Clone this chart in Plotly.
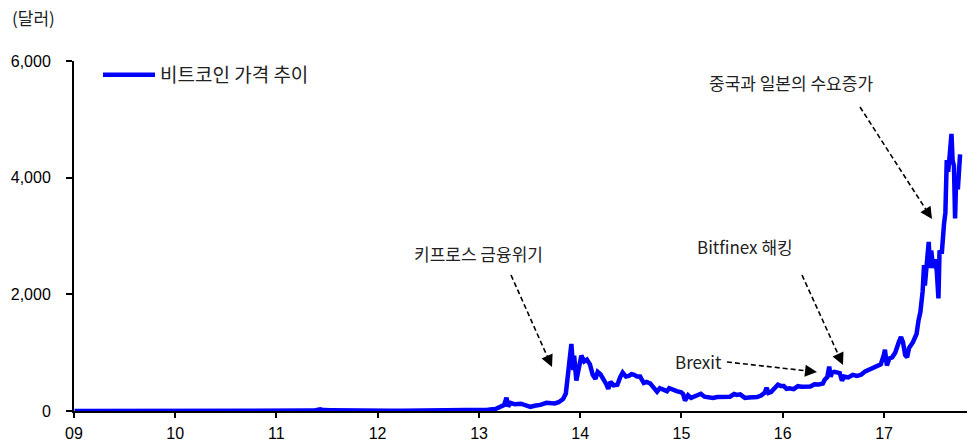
import plotly.graph_objects as go

# Bitcoin price (USD), read at irregular dates
dates = [
    "2009-01-03", "2010-07-17", "2010-11-06", "2011-01-01", "2011-02-10", "2011-04-15",
    "2011-05-15", "2011-06-08", "2011-06-20", "2011-07-15", "2011-08-15", "2011-09-15",
    "2011-10-20", "2011-11-20", "2012-01-05", "2012-02-15", "2012-04-01", "2012-06-01",
    "2012-08-15", "2012-09-01", "2012-11-01", "2013-01-01", "2013-02-01", "2013-03-01",
    "2013-03-20", "2013-04-01", "2013-04-10", "2013-04-16", "2013-04-25", "2013-05-10",
    "2013-06-01", "2013-06-20", "2013-07-05", "2013-07-20", "2013-08-10", "2013-09-01",
    "2013-09-20", "2013-10-01", "2013-10-15", "2013-10-31", "2013-11-10", "2013-11-18",
    "2013-11-24", "2013-11-30", "2013-12-07", "2013-12-10", "2013-12-18", "2013-12-25",
    "2014-01-05", "2014-01-15", "2014-01-25", "2014-02-05", "2014-02-15", "2014-02-25",
    "2014-03-05", "2014-03-15", "2014-03-25", "2014-04-05", "2014-04-12", "2014-04-20",
    "2014-05-01", "2014-05-15", "2014-05-25", "2014-06-03", "2014-06-15", "2014-06-25",
    "2014-07-05", "2014-07-15", "2014-07-25", "2014-08-05", "2014-08-18", "2014-08-28",
    "2014-09-10", "2014-09-22", "2014-10-05", "2014-10-15", "2014-10-28", "2014-11-10",
    "2014-11-18", "2014-12-01", "2014-12-15", "2014-12-31", "2015-01-07", "2015-01-14",
    "2015-01-25", "2015-02-05", "2015-02-15", "2015-03-01", "2015-03-12", "2015-03-25",
    "2015-04-10", "2015-04-25", "2015-05-10", "2015-05-25", "2015-06-10", "2015-06-25",
    "2015-07-10", "2015-07-20", "2015-08-01", "2015-08-18", "2015-09-01", "2015-09-15",
    "2015-10-01", "2015-10-15", "2015-10-28", "2015-11-04", "2015-11-11", "2015-11-20",
    "2015-12-01", "2015-12-15", "2015-12-25", "2016-01-05", "2016-01-15", "2016-01-25",
    "2016-02-10", "2016-02-25", "2016-03-10", "2016-03-25", "2016-04-10", "2016-04-25",
    "2016-05-10", "2016-05-25", "2016-06-01", "2016-06-10", "2016-06-17", "2016-06-22",
    "2016-06-28", "2016-07-05", "2016-07-15", "2016-07-25", "2016-08-02", "2016-08-10",
    "2016-08-25", "2016-09-10", "2016-09-25", "2016-10-10", "2016-10-25", "2016-11-05",
    "2016-11-20", "2016-12-05", "2016-12-20", "2016-12-31", "2017-01-04", "2017-01-11",
    "2017-01-20", "2017-01-30", "2017-02-10", "2017-02-23", "2017-03-03", "2017-03-10",
    "2017-03-18", "2017-03-25", "2017-04-01", "2017-04-15", "2017-04-28", "2017-05-05",
    "2017-05-12", "2017-05-20", "2017-05-25", "2017-05-28", "2017-06-05", "2017-06-11",
    "2017-06-15", "2017-06-20", "2017-06-27", "2017-07-03", "2017-07-10", "2017-07-16",
    "2017-07-20", "2017-07-28", "2017-08-05", "2017-08-10", "2017-08-15", "2017-08-20",
    "2017-08-25", "2017-09-01", "2017-09-05", "2017-09-10", "2017-09-14", "2017-09-18",
    "2017-09-24", "2017-09-29", "2017-10-02",
]
prices = [
    0, 0.05, 0.4, 0.3, 1.0, 1.0,
    7, 30, 16, 14, 11, 5,
    2.5, 2.5, 7, 5, 5, 5.5,
    12, 10, 11, 13, 20, 34,
    70, 100, 230, 80, 140, 115,
    125, 105, 70, 90, 105, 140,
    125, 130, 150, 205, 300, 600,
    800, 1150, 700, 950, 520, 700,
    950, 850, 880, 800, 620, 550,
    670, 630, 560, 460, 380, 500,
    440, 450, 580, 660, 590, 600,
    630, 620, 590, 590, 480, 500,
    475, 400, 330, 390, 355, 340,
    390, 375, 340, 320, 290, 180,
    270, 225, 240, 260, 295, 245,
    235, 225, 240, 238, 230, 245,
    290, 275, 285, 225, 230, 230,
    238, 265, 310, 400, 310, 325,
    370, 450, 430, 430, 380, 390,
    375, 425, 415, 415, 420, 460,
    455, 470, 540, 580, 760, 590,
    660, 670, 660, 650, 520, 590,
    575, 620, 600, 620, 680, 700,
    740, 760, 800, 960, 1050, 780,
    900, 920, 1000, 1180, 1270, 1180,
    960, 920, 1080, 1180, 1320, 1550,
    1700, 2050, 2500, 2150, 2700, 2900,
    2450, 2750, 2450, 2600, 2400, 1930,
    2750, 2700, 3200, 3400, 4300, 4100,
    4350, 4750, 4300, 4200, 3300, 4000,
    3800, 4200, 4400,
]

year_ticks = ["2009-01-01", "2010-01-01", "2011-01-01", "2012-01-01", "2013-01-01",
              "2014-01-01", "2015-01-01", "2016-01-01", "2017-01-01"]
year_labels = ["09", "10", "11", "12", "13", "14", "15", "16", "17"]
y_ticks = [0, 2000, 4000, 6000]

W, H = 976, 445
L, R, T, B = 74, 9, 61, 34
PW, PH = W - L - R, H - T - B

TEXT_FONT = "Noto Sans CJK KR, Noto Sans, sans-serif"
NUM_FONT = "Liberation Sans, Arial, sans-serif"


def px(x):
    return (x - L) / PW


def py(y):
    return (H - B - y) / PH


fig = go.Figure()
fig.add_trace(go.Scatter(
    x=dates, y=prices, mode="lines", name="비트코인 가격 추이",
    line=dict(color="#0000FF", width=4.5),
))

annotations = [
    dict(text="(달러)", x=px(10), y=py(17), xref="paper", yref="paper",
         xanchor="left", yanchor="middle", showarrow=False,
         font=dict(family=TEXT_FONT, size=17, color="#222")),
]

notes = [
    ("키프로스 금융위기", 478, 253, (511, 275), (552, 367)),
    ("Bitfinex 해킹", 745, 247, (802, 275), (843, 365)),
    ("Brexit", 698, 361, (727, 362), (817, 372)),
    ("중국과 일본의 수요증가", 791, 82, (860, 107), (932, 219)),
]

shapes = []
for text, tx, ty, (sx, sy), (ex, ey) in notes:
    annotations.append(dict(
        text=text, x=px(tx), y=py(ty), xref="paper", yref="paper",
        xanchor="center", yanchor="middle", showarrow=False,
        font=dict(family=TEXT_FONT, size=17, color="#222")))
    dx, dy = ex - sx, ey - sy
    n = (dx * dx + dy * dy) ** 0.5
    ux, uy = dx / n, dy / n
    # dashed shaft, stopping short of the arrowhead
    shapes.append(dict(
        type="line", xref="paper", yref="paper",
        x0=px(sx), y0=py(sy), x1=px(ex - ux * 8), y1=py(ey - uy * 8),
        line=dict(color="#000", width=1.6, dash="5px,3px")))
    # solid arrowhead at the tip
    annotations.append(dict(
        text="", x=px(ex), y=py(ey), xref="paper", yref="paper",
        ax=-ux * 9, ay=-uy * 9, showarrow=True,
        arrowhead=2, arrowsize=1.5, arrowwidth=1.6, arrowcolor="#000",
        standoff=0))

fig.update_layout(
    width=W, height=H,
    margin=dict(l=L, r=R, t=T, b=B, pad=0, autoexpand=False),
    paper_bgcolor="white", plot_bgcolor="white",
    showlegend=True,
    legend=dict(x=px(98), y=py(56), xanchor="left", yanchor="top",
                bgcolor="rgba(0,0,0,0)", itemwidth=52,
                font=dict(family=TEXT_FONT, size=19, color="#222")),
    annotations=annotations,
    shapes=shapes,
    xaxis=dict(
        type="date", range=["2009-01-01", "2017-10-27"],
        tickvals=year_ticks, ticktext=year_labels,
        showgrid=False, zeroline=False, automargin=False,
        showline=True, linecolor="#000", linewidth=2,
        ticks="outside", ticklen=5, tickwidth=1.5, tickcolor="#000",
        ticklabelstandoff=2,
        tickfont=dict(family=NUM_FONT, size=16, color="#000"),
    ),
    yaxis=dict(
        range=[0, 6000], tickvals=y_ticks, tickformat=",",
        showgrid=False, zeroline=False, automargin=False,
        showline=True, linecolor="#000", linewidth=2,
        ticks="outside", ticklen=6, tickwidth=1.5, tickcolor="#000",
        ticklabelstandoff=12,
        tickfont=dict(family=NUM_FONT, size=16, color="#000"),
    ),
)

fig.write_html("out.html")
